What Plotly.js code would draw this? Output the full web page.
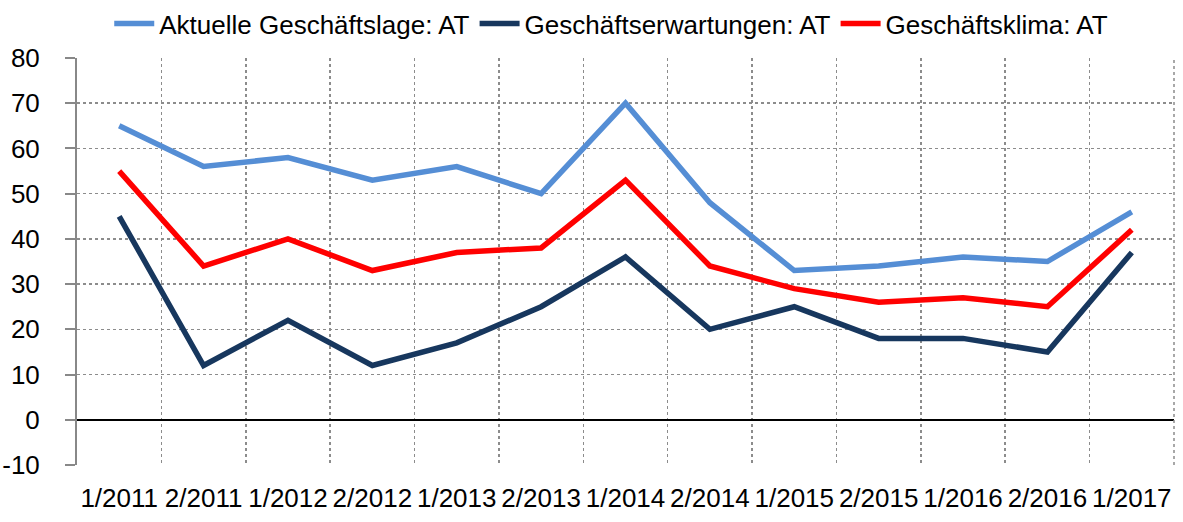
<!DOCTYPE html>
<html>
<head>
<meta charset="utf-8">
<script src="https://cdn.plot.ly/plotly-3.0.1.min.js"></script>
<style>html,body{margin:0;padding:0;background:#fff;}#chart{width:1183px;height:522px;}</style>
</head>
<body>
<div id="chart"></div>
<script>
const categories = ["1/2011","2/2011","1/2012","2/2012","1/2013","2/2013","1/2014","2/2014","1/2015","2/2015","1/2016","2/2016","1/2017"];
const seriesNames = ["Aktuelle Geschäftslage: AT","Geschäftserwartungen: AT","Geschäftsklima: AT"];
const aktuelleLage = [65,56,58,53,56,50,70,48,33,34,36,35,46];
const erwartungen = [45,12,22,12,17,25,36,20,25,18,18,15,37];
const klima = [55,34,40,33,37,38,53,34,29,26,27,25,42];
const yTicks = [-10,0,10,20,30,40,50,60,70,80];

const FONT = "'Liberation Sans', Arial, sans-serif";
const colors = ["#558ED5","#17375E","#FF0000"];
const values = [aktuelleLage, erwartungen, klima];

const traces = values.map((v,i)=>({
  type:"scatter", mode:"lines", x:categories, y:v, name:seriesNames[i],
  line:{color:colors[i], width:5.5}
}));

const layout = {
  width:1183, height:522,
  margin:{l:77, r:9, t:58, b:57, autoexpand:false},
  paper_bgcolor:"#fff", plot_bgcolor:"#fff",
  font:{family:FONT, size:26, color:"#000"},
  showlegend:true,
  legend:{orientation:"h", x:0.487, xanchor:"center", y:1, yanchor:"top", yref:"container",
    font:{family:FONT, size:26, color:"#000"}, itemwidth:40, tracegroupgap:0, bgcolor:"rgba(0,0,0,0)"},
  xaxis:{type:"category", range:[-0.5,12.5], tickson:"boundaries", showgrid:true, tickangle:0,
    gridcolor:"#8c8c8c", griddash:"dot", gridwidth:1.5, showline:false, ticks:"",
    zeroline:false, tickfont:{family:FONT, size:26, color:"#000"}, ticklabelstandoff:15, fixedrange:true},
  yaxis:{range:[-10,80], tickvals:yTicks, ticktext:yTicks.map(String), showgrid:true,
    gridcolor:"#8c8c8c", griddash:"dot", gridwidth:1.5,
    zeroline:true, zerolinecolor:"#000", zerolinewidth:2.5,
    showline:true, linecolor:"#888", linewidth:2, ticks:"outside", ticklen:10, tickwidth:2, tickcolor:"#888",
    ticklabelstandoff:20, tickfont:{family:FONT, size:26, color:"#000"}, fixedrange:true},
  shapes:[
    {type:"line", xref:"paper", yref:"paper", x0:1, x1:1, y0:0, y1:1, line:{color:"#8c8c8c", width:1.5, dash:"dot"}}
  ]
};
Plotly.newPlot("chart", traces, layout, {staticPlot:true});
</script>
</body>
</html>
